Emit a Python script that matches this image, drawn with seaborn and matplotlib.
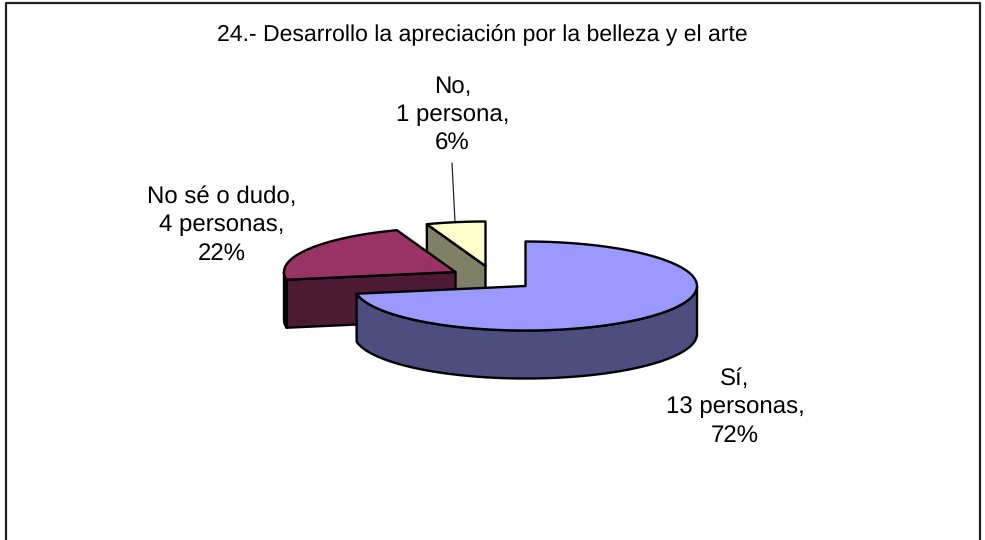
import numpy as np
import matplotlib
matplotlib.use("Agg")
import matplotlib.pyplot as plt
import seaborn as sns

title = "24.- Desarrollo la apreciación por la belleza y el arte"
categories = ["Sí", "No sé o dudo", "No"]
counts = [13, 4, 1]
units = ["personas", "personas", "persona"]
percents = [72, 22, 6]

sns.set_theme(style="white")
plt.rcParams["font.family"] = ["Liberation Sans", "DejaVu Sans"]
plt.rcParams["text.hinting"] = "none"
plt.rcParams["text.hinting_factor"] = 1
palette = sns.color_palette(["#9999FF", "#993366", "#FFFFCC"])

W, H = 985, 540
fig = plt.figure(figsize=(W / 100, H / 100), dpi=100)
ax = fig.add_axes([0, 0, 1, 1])
ax.set_xlim(0, W)
ax.set_ylim(H, 0)
ax.axis("off")

RX, RY, DEPTH = 171.5, 44.5, 48
centers = [(525.5, 286), (455.5, 272), (485.5, 266)]
EC = "black"
LW = 1.7

total = sum(counts)
fracs = np.array(counts) / total
starts = np.concatenate([[0], np.cumsum(fracs)[:-1]]) * 2 * np.pi
ends = np.cumsum(fracs) * 2 * np.pi


def rim(c, a, b, n=120):
    t = np.linspace(a, b, n)
    return c[0] + RX * np.sin(t), c[1] - RY * np.cos(t)


def shade(col):
    return tuple(v * 0.5 for v in col)


def poly(x, y, fc, z):
    ax.fill(x, y, facecolor=fc, edgecolor=EC, linewidth=LW, joinstyle="round", zorder=z)


# back-to-front: No, No sé, Sí
for z, i in enumerate([2, 1, 0]):
    c, a, b, col = centers[i], starts[i], ends[i], palette[i]
    side = shade(col)
    base = 10 * (z + 1)
    # cut faces that look towards the viewer
    for ang, visible in ((a, np.sin(a) < -1e-6), (b, np.sin(b) > 1e-6)):
        if visible:
            ex, ey = c[0] + RX * np.sin(ang), c[1] - RY * np.cos(ang)
            poly([c[0], ex, ex, c[0]], [c[1], ey, ey + DEPTH, c[1] + DEPTH], side, base)
    # outer wall
    lo, hi = max(a, np.pi / 2), min(b, 3 * np.pi / 2)
    if hi > lo:
        x, y = rim(c, lo, hi)
        poly(np.r_[x, x[::-1]], np.r_[y, y[::-1] + DEPTH], side, base + 1)
    # top face
    x, y = rim(c, a, b)
    poly(np.r_[c[0], x], np.r_[c[1], y], col, base + 2)

# frame, open at the bottom of the picture
ax.plot([6, 6, 980, 980], [H, 3, 3, H], color="#222222", lw=1.6, zorder=50, clip_on=False)

ax.text(482.5, 35, title, ha="center", va="center", fontsize=16.85, color="black")

FS = 17.4
label_pos = [(735, 407), (221.5, 225), (452.5, 115)]
for i, (lx, ly) in enumerate(label_pos):
    ax.text(lx, ly, f"{categories[i]},\n{counts[i]} {units[i]},\n{percents[i]}%",
            ha="center", va="center", fontsize=FS, color="black", linespacing=1.34, zorder=60)

# leader line for the smallest slice
ax.plot([452, 455], [163, 222], color="#222222", lw=0.9, zorder=5)

fig.savefig("out.png", dpi=100, facecolor="white")
